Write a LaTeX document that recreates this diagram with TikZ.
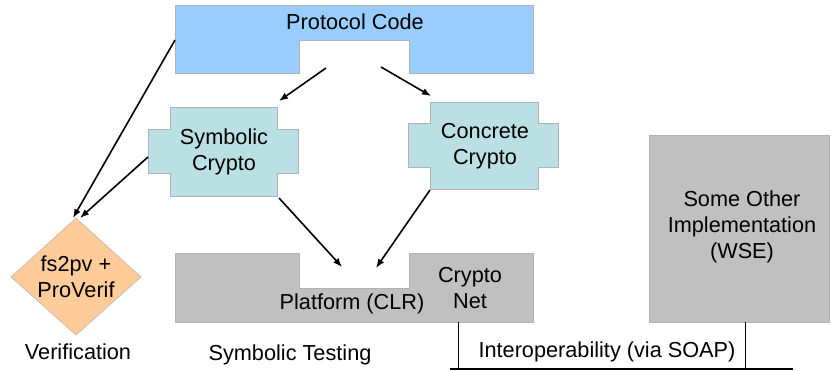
\documentclass[tikz,border=0pt]{standalone}
\usepackage{fontspec}
\setmainfont{Liberation Sans}
\usetikzlibrary{arrows.meta}
\definecolor{pblue}{RGB}{153,204,255}
\definecolor{pcyan}{RGB}{187,224,227}
\definecolor{pgray}{RGB}{192,192,192}
\definecolor{ppeach}{RGB}{255,204,153}
\begin{document}
\begin{tikzpicture}[x=1pt,y=-1pt,
  lbl/.style={inner sep=0pt,align=center,font=\fontsize{21.7}{26}\selectfont},
  conn/.style={line width=1.6pt,-{Latex[length=9pt,width=7pt]}},
  edge1/.style={draw=black!30,line width=0.5pt}]
\useasboundingbox (0,0) rectangle (831,370);
% Protocol Code
\fill[pblue,edge1] (175,5)--(533,5)--(533,73)--(409,73)--(409,40)--(299,40)--(299,73)--(175,73)--cycle;
\node[lbl] (pc) at (355,22) {Protocol Code};
% Symbolic Crypto
\fill[pcyan,edge1] (170,107)--(277,107)--(277,129)--(298,129)--(298,173)--(277,173)--(277,196)--(170,196)--(170,173)--(148,173)--(148,129)--(170,129)--cycle;
\node[lbl] (sc) at (224,152) {Symbolic\\Crypto};
% Concrete Crypto
\fill[pcyan,edge1] (430,102)--(538,102)--(538,123)--(558,123)--(558,167)--(538,167)--(538,189)--(430,189)--(430,167)--(408,167)--(408,123)--(430,123)--cycle;
\node[lbl] (cc) at (485,146) {Concrete\\Crypto};
% Platform
\fill[pgray,edge1] (175,253)--(299,253)--(299,288)--(409,288)--(409,253)--(533,253)--(533,322)--(175,322)--cycle;
\node[lbl] (pf) at (352,304) {Platform (CLR)};
\node[lbl] (cn) at (470,288) {Crypto\\Net};
% Some other implementation
\fill[pgray,edge1] (649,135) rectangle (829,322);
\node[lbl] (so) at (742,227) {Some Other\\Implementation\\(WSE)};
% Diamond
\fill[ppeach,edge1] (76,218)--(141,277)--(76,335)--(11,277)--cycle;
\node[lbl] (fs) at (76,277) {fs2pv +\\ProVerif};
% labels
\node[lbl] (ver) at (78,352) {Verification};
\node[lbl] (st) at (290,355) {Symbolic Testing};
\node[lbl] (io) at (607,352) {Interoperability (via SOAP)};
% interop lines
\coordinate (ia) at (458,322);
\coordinate (ib) at (745,322);
\coordinate (ia2) at (458,369);
\coordinate (ib2) at (745,369);
\coordinate (hl) at (450,369);
\coordinate (hr) at (793,369);
\draw[line width=0.8pt] (ia) -- (ia2);
\draw[line width=0.8pt] (ib) -- (ib2);
\draw[line width=1.6pt] (hl) -- (hr);
% arrow endpoints
\coordinate (a1s) at (175,40);
\coordinate (a1e) at (73,218);
\coordinate (a2s) at (148,157);
\coordinate (a2e) at (80,218);
\coordinate (a3s) at (326,68);
\coordinate (a3e) at (279,101);
\coordinate (a4s) at (381,67);
\coordinate (a4e) at (431,96);
\coordinate (a5s) at (279,198);
\coordinate (a5e) at (342,267);
\coordinate (a6s) at (430,190);
\coordinate (a6e) at (376,268);
\draw[conn] (a1s) -- (a1e);
\draw[conn] (a2s) -- (a2e);
\draw[conn] (a3s) -- (a3e);
\draw[conn] (a4s) -- (a4e);
\draw[conn] (a5s) -- (a5e);
\draw[conn] (a6s) -- (a6e);
\end{tikzpicture}
\end{document}
